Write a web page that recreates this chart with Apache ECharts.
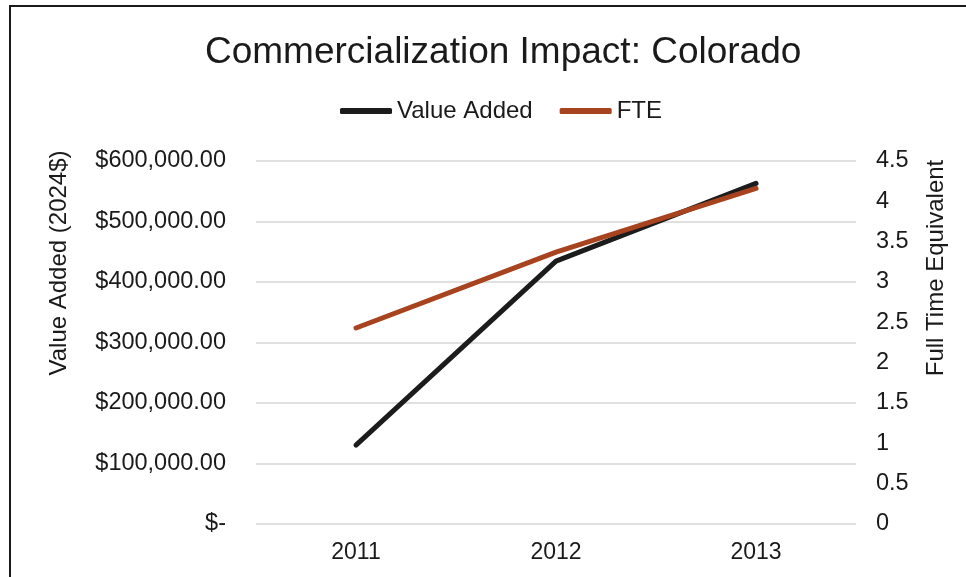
<!DOCTYPE html>
<html>
<head>
<meta charset="utf-8">
<script src="https://cdn.jsdelivr.net/npm/echarts@6/dist/echarts.min.js"></script>
<style>
  html, body { margin: 0; padding: 0; background: #fff; }
  #chart { width: 966px; height: 577px; }
</style>
</head>
<body>
<div id="chart"></div>
<script>
// data
var years = ['2011', '2012', '2013'];
var valueAdded = [130500, 434500, 563000];
var fte = [2.43, 3.37, 4.16];

var black = '#1c1c1c';
var rust = '#a8431f';
var font = 'Liberation Sans, Arial, sans-serif';

function moneyLabel(v) {
  if (v === 0) return '$-';
  return '$' + v.toLocaleString('en-US', { minimumFractionDigits: 2, maximumFractionDigits: 2 });
}

var chart = echarts.init(document.getElementById('chart'));
var option = {
  backgroundColor: '#fff',
  animation: false,
  textStyle: { fontFamily: font },
  title: {
    text: 'Commercialization Impact: Colorado',
    left: 200,
    top: 29,
    textStyle: { fontSize: 37, fontWeight: 'normal', color: '#1a1a1a', fontFamily: font }
  },
  legend: {
    top: 94,
    left: 335,
    itemWidth: 52,
    itemHeight: 6,
    itemGap: 27,
    icon: 'roundRect',
    textStyle: { fontSize: 24, color: '#1a1a1a' },
    data: ['Value Added', 'FTE']
  },
  grid: { left: 256, right: 110, top: 161, bottom: 53 },
  xAxis: {
    type: 'category',
    data: years,
    boundaryGap: true,
    axisLine: { show: false },
    axisTick: { show: false },
    axisLabel: { fontSize: 23, color: '#1a1a1a', margin: 17 }
  },
  yAxis: [
    {
      type: 'value',
      min: 0,
      max: 600000,
      interval: 100000,
      axisLabel: { fontSize: 23.5, color: '#1a1a1a', margin: 30, formatter: moneyLabel },
      axisLine: { show: false },
      axisTick: { show: false },
      splitLine: { lineStyle: { color: '#e0e0e0', width: 2 } }
    },
    {
      type: 'value',
      min: 0,
      max: 4.5,
      interval: 0.5,
      axisLabel: { fontSize: 23.5, color: '#1a1a1a', margin: 20 },
      axisLine: { show: false },
      axisTick: { show: false },
      splitLine: { show: false }
    }
  ],
  graphic: [
    {
      type: 'rect',
      shape: { x: 10, y: 6, width: 1000, height: 700 },
      style: { fill: 'none', stroke: '#1a1a1a', lineWidth: 2 },
      silent: true
    },
    // axis titles sit above the plot's middle in the original, so place them by hand
    {
      type: 'text',
      x: 59, y: 263, rotation: Math.PI / 2,
      style: { text: 'Value Added (2024$)', fontSize: 24, fontFamily: font, fill: '#1a1a1a', align: 'center', verticalAlign: 'middle' },
      silent: true
    },
    {
      type: 'text',
      x: 936, y: 268, rotation: Math.PI / 2,
      style: { text: 'Full Time Equivalent', fontSize: 24, fontFamily: font, fill: '#1a1a1a', align: 'center', verticalAlign: 'middle' },
      silent: true
    }
  ],
  series: [
    {
      name: 'Value Added',
      type: 'line',
      data: valueAdded,
      yAxisIndex: 0,
      symbol: 'none',
      color: black,
      lineStyle: { color: black, width: 5, cap: 'round', join: 'round' }
    },
    {
      name: 'FTE',
      type: 'line',
      data: fte,
      yAxisIndex: 1,
      symbol: 'none',
      color: rust,
      lineStyle: { color: rust, width: 5, cap: 'round', join: 'round' }
    }
  ]
};
chart.setOption(option);
</script>
</body>
</html>
